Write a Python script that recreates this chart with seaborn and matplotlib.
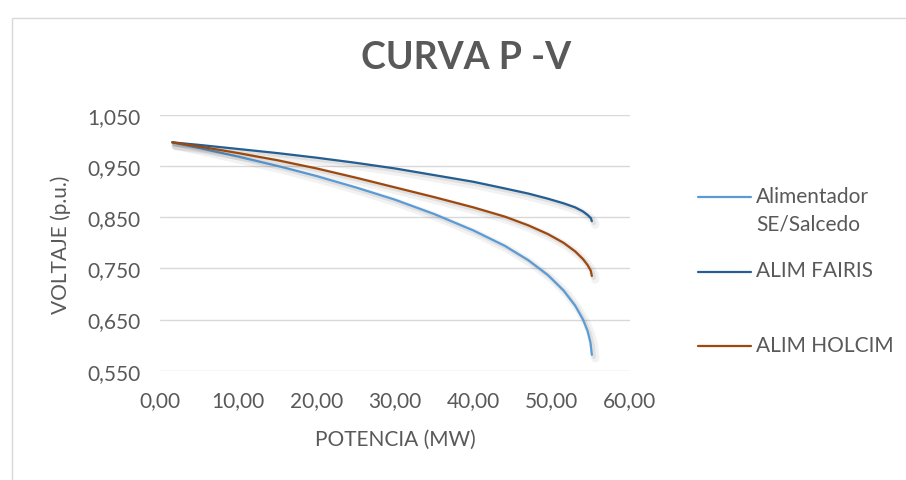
import matplotlib
matplotlib.use("Agg")
import matplotlib.pyplot as plt
import matplotlib.patheffects as pe
from matplotlib.lines import Line2D
from matplotlib.patches import Rectangle
from matplotlib.ticker import FuncFormatter
import numpy as np
import pandas as pd
import seaborn as sns

# ---- data ----
series_names = ["Alimentador\nSE/Salcedo", "ALIM FAIRIS", "ALIM HOLCIM"]

p_salcedo = [1.57, 5, 10, 15, 20, 25, 30, 35, 40, 44, 47, 49.5, 51.5, 53, 54, 54.6, 54.95, 55.13]
v_salcedo = [0.996, 0.985, 0.968, 0.950, 0.930, 0.908, 0.884, 0.856, 0.824, 0.794, 0.766,
             0.737, 0.707, 0.677, 0.650, 0.627, 0.605, 0.581]

p_fairis = [1.57, 5, 10, 15, 20, 25, 30, 35, 40, 44, 47, 49.5, 51.5, 53, 54, 54.6, 55.0, 55.13]
v_fairis = [0.996, 0.991, 0.983, 0.975, 0.966, 0.956, 0.945, 0.932, 0.919, 0.906, 0.896,
            0.886, 0.877, 0.869, 0.861, 0.854, 0.848, 0.842]

p_holcim = [1.57, 5, 10, 15, 20, 25, 30, 35, 40, 44, 47, 49.5, 51.5, 53, 54, 54.6, 55.0, 55.13]
v_holcim = [0.996, 0.988, 0.975, 0.961, 0.945, 0.927, 0.908, 0.889, 0.869, 0.851, 0.834,
            0.817, 0.800, 0.783, 0.768, 0.756, 0.745, 0.735]

x_ticks = [0, 10, 20, 30, 40, 50, 60]
y_ticks = [0.55, 0.65, 0.75, 0.85, 0.95, 1.05]

title = "CURVA P -V"
x_label = "POTENCIA (MW)"
y_label = "VOLTAJE (p.u.)"

colors = ["#5B9BD5", "#255E91", "#9E480E"]

df = pd.concat([
    pd.DataFrame({"P": p_salcedo, "V": v_salcedo, "serie": series_names[0]}),
    pd.DataFrame({"P": p_fairis, "V": v_fairis, "serie": series_names[1]}),
    pd.DataFrame({"P": p_holcim, "V": v_holcim, "serie": series_names[2]}),
], ignore_index=True)

# ---- styling ----
sns.set_theme(style="white")
plt.rcParams["font.family"] = ["Lato", "DejaVu Sans"]
text_color = "#595959"

W, H = 906, 481
fig = plt.figure(figsize=(W / 100, H / 100), dpi=100)
fig.patch.set_facecolor("white")

# outer chart frame
fig.add_artist(Rectangle((11.5 / W, -0.2), 1.2, 1.2 - 18.5 / H,
                         transform=fig.transFigure, fill=False,
                         edgecolor="#D9D9D9", linewidth=1.0))

left, right, top, bottom = 160, 630, 115.7, 371.7
ax = fig.add_axes([left / W, 1 - bottom / H, (right - left) / W, (bottom - top) / H])
ax.set_facecolor("white")

shadow = [pe.SimpleLineShadow(offset=(2.5, -2.5), shadow_color="#000000", alpha=0.05, linewidth=6),
          pe.SimpleLineShadow(offset=(1.5, -1.5), shadow_color="#000000", alpha=0.07, linewidth=3),
          pe.Normal()]

for name, col in zip(series_names, colors):
    sub = df[df["serie"] == name]
    sns.lineplot(data=sub, x="P", y="V", color=col, linewidth=1.6, ax=ax,
                 sort=False, estimator=None, legend=False, zorder=3,
                 path_effects=shadow)

ax.set_xlim(0, 60)
ax.set_ylim(0.55, 1.05)
ax.set_xticks(x_ticks)
ax.set_yticks(y_ticks)
ax.xaxis.set_major_formatter(FuncFormatter(lambda v, _: f"{v:.2f}".replace(".", ",")))
ax.yaxis.set_major_formatter(FuncFormatter(lambda v, _: f"{v:.3f}".replace(".", ",")))
ax.tick_params(axis="both", length=0, labelsize=15, colors=text_color)
ax.tick_params(axis="x", pad=14)
ax.tick_params(axis="y", pad=14)
for s in ax.spines.values():
    s.set_visible(False)
ax.grid(axis="y", color="#D9D9D9", linewidth=1.0)
ax.grid(axis="x", visible=False)
ax.set_axisbelow(True)
ax.set_xlabel("")
ax.set_ylabel("")

fig.text(395 / W, 1 - 440 / H, x_label, ha="center", va="center", fontsize=15, color=text_color)
fig.text(61 / W, 1 - 245 / H, y_label, ha="center", va="center", rotation=90, fontsize=15, color=text_color)
fig.text(466 / W, 1 - 58 / H, title, ha="center", va="center", fontsize=27, fontweight="bold", color=text_color)

# legend (Excel-style layout on the right)
leg_rows = [198, 272.5, 347]
for name, col, yy in zip(series_names, colors, leg_rows):
    fig.add_artist(Line2D([698 / W, 751 / W], [1 - yy / H, 1 - yy / H],
                          transform=fig.transFigure, color=col, linewidth=1.6))
    fig.text(756 / W, 1 - (yy - 11) / H, name, ha="left", va="top", fontsize=15,
             color=text_color, linespacing=1.45)

fig.savefig("out.png", dpi=100)
